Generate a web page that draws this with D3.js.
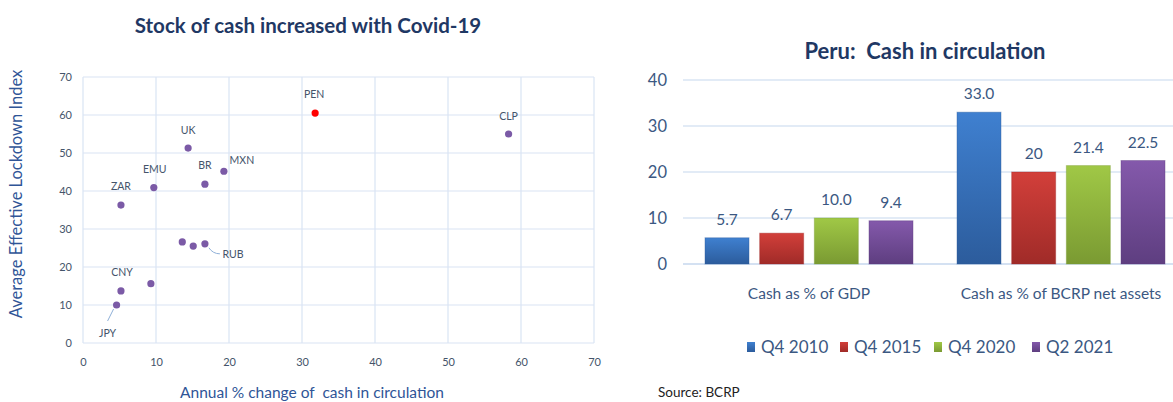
<!DOCTYPE html>
<html>
<head>
<meta charset="utf-8">
<script src="https://cdn.jsdelivr.net/npm/d3@7/dist/d3.min.js"></script>
<style>
  html, body { margin: 0; padding: 0; background: #fff; }
  svg { display: block; font-family: Lato, "Open Sans", sans-serif; }
  text { white-space: pre; }
</style>
</head>
<body>
<svg id="chart" width="1173" height="402"></svg>
<script>
// ---- Scatter: cash growth vs lockdown stringency ----
const countries  = ["UK", "PEN", "CLP", "MXN", "BR", "EMU", "ZAR", "RUB", "CNY", "JPY", "", "", ""];
const cashGrowth = [14.4, 31.8, 58.3, 19.3, 16.7, 9.7, 5.2, 16.7, 5.2, 4.6, 13.6, 15.1, 9.3];
const lockdown   = [51.3, 60.5, 55.0, 45.2, 41.8, 40.9, 36.3, 26.1, 13.7, 10.0, 26.6, 25.5, 15.6];
const highlighted = "PEN";
const scatterTicks = [0, 10, 20, 30, 40, 50, 60, 70];

// ---- Bars: Peru cash in circulation ----
const barCategories = ["Cash as % of GDP", "Cash as % of BCRP net assets"];
const periods = ["Q4 2010", "Q4 2015", "Q4 2020", "Q2 2021"];
const periodValues = {
  "Q4 2010": [5.7, 33.0],
  "Q4 2015": [6.7, 20],
  "Q4 2020": [10.0, 21.4],
  "Q2 2021": [9.4, 22.5]
};
const valueLabels = {
  "Q4 2010": ["5.7", "33.0"],
  "Q4 2015": ["6.7", "20"],
  "Q4 2020": ["10.0", "21.4"],
  "Q2 2021": ["9.4", "22.5"]
};
const barTicks = [0, 10, 20, 30, 40];

const svg = d3.select("#chart");
const navy = "#1f3864";
const tickColor = "#44546a";
const gridColor = "#d9e4f3";

// ================= Scatter =================
const sx = d3.scaleLinear().domain([0, 70]).range([83, 594]);
const sy = d3.scaleLinear().domain([0, 70]).range([343, 77]);

const left = svg.append("g");

left.append("text")
  .attr("x", 308).attr("y", 33)
  .attr("text-anchor", "middle")
  .attr("font-weight", "bold").attr("font-size", 20.5)
  .attr("fill", navy)
  .text("Stock of cash increased with Covid-19");

// grid
left.append("g").selectAll("line.v").data(scatterTicks).join("line")
  .attr("x1", d => sx(d)).attr("x2", d => sx(d))
  .attr("y1", sy(0)).attr("y2", sy(70))
  .attr("stroke", gridColor).attr("stroke-width", 1.2);
left.append("g").selectAll("line.h").data(scatterTicks).join("line")
  .attr("x1", sx(0)).attr("x2", sx(70))
  .attr("y1", d => sy(d)).attr("y2", d => sy(d))
  .attr("stroke", gridColor).attr("stroke-width", 1.2);

// axes
const sxAxis = left.append("g")
  .attr("transform", `translate(0,${sy(0)})`)
  .call(d3.axisBottom(sx).tickValues(scatterTicks).tickSize(0).tickPadding(15));
const syAxis = left.append("g")
  .attr("transform", `translate(${sx(0)},0)`)
  .call(d3.axisLeft(sy).tickValues(scatterTicks).tickSize(0).tickPadding(11));
[sxAxis, syAxis].forEach(a => {
  a.select(".domain").remove();
  a.selectAll("text").attr("fill", tickColor).attr("font-size", 11)
    .attr("font-family", "Lato, sans-serif");
});

left.append("text")
  .attr("transform", `translate(22,${194}) rotate(-90)`)
  .attr("text-anchor", "middle")
  .attr("font-size", 16.5).attr("fill", "#2f5597")
  .text("Average Effective Lockdown Index");

left.append("text")
  .attr("x", 312).attr("y", 398)
  .attr("text-anchor", "middle")
  .attr("font-size", 15.5).attr("fill", "#2f5597")
  .text("Annual % change of  cash in circulation");

const points = countries.map((c, i) => ({ code: c, x: cashGrowth[i], y: lockdown[i] }));

// label placement relative to each dot
const labelOffset = {
  UK: [0, -14], PEN: [-1, -15], CLP: [0, -14], MXN: [18, -7], BR: [0, -15],
  EMU: [1, -15], ZAR: [0, -15], RUB: [28, 14], CNY: [1, -15], JPY: [-9, 32]
};

left.append("g").selectAll("circle").data(points).join("circle")
  .attr("cx", d => sx(d.x)).attr("cy", d => sy(d.y))
  .attr("r", 3.6)
  .attr("fill", d => d.code === highlighted ? "#ff0000" : "#7b5aa6");

// leader lines
const rub = points.find(p => p.code === "RUB");
left.append("path")
  .attr("d", `M${sx(rub.x) + 4},${sy(rub.y) + 4} Q${sx(rub.x) + 8},${sy(rub.y) + 10} ${sx(rub.x) + 15},${sy(rub.y) + 10}`)
  .attr("fill", "none").attr("stroke", "#8fb0d8").attr("stroke-width", 1);
const jpy = points.find(p => p.code === "JPY");
left.append("line")
  .attr("x1", sx(jpy.x) - 3).attr("y1", sy(jpy.y) + 4)
  .attr("x2", sx(jpy.x) - 9).attr("y2", sy(jpy.y) + 16)
  .attr("stroke", "#8fb0d8").attr("stroke-width", 1);

left.append("g").selectAll("text").data(points.filter(p => p.code)).join("text")
  .attr("x", d => sx(d.x) + labelOffset[d.code][0])
  .attr("y", d => sy(d.y) + labelOffset[d.code][1])
  .attr("text-anchor", "middle")
  .attr("font-size", 10.5).attr("fill", tickColor)
  .text(d => d.code);

// ================= Bars =================
const by = d3.scaleLinear().domain([0, 40]).range([264, 80]);
const bx0 = d3.scaleBand().domain(barCategories).range([683, 1187])
  .paddingInner(0.1746).paddingOuter(0.0873);
const bx1 = d3.scaleBand().domain(periods).range([0, bx0.bandwidth()])
  .paddingInner(0.195).paddingOuter(0);

const colors = {
  "Q4 2010": ["#3f80d0", "#2c5c9c"],
  "Q4 2015": ["#d23f3a", "#a02b28"],
  "Q4 2020": ["#a0c846", "#7a9a32"],
  "Q2 2021": ["#8459ab", "#5e3e80"]
};

const defs = svg.append("defs");
periods.forEach((p, i) => {
  const g = defs.append("linearGradient").attr("id", "grad" + i)
    .attr("x1", 0).attr("y1", 0).attr("x2", 0).attr("y2", 1);
  g.append("stop").attr("offset", "0%").attr("stop-color", colors[p][0]);
  g.append("stop").attr("offset", "100%").attr("stop-color", colors[p][1]);
});

const right = svg.append("g");

right.append("text")
  .attr("x", 925).attr("y", 59)
  .attr("text-anchor", "middle")
  .attr("font-weight", "bold").attr("font-size", 22)
  .attr("fill", navy)
  .text("Peru:  Cash in circulation");

right.append("g").selectAll("line").data(barTicks).join("line")
  .attr("x1", 683).attr("x2", 1173)
  .attr("y1", d => by(d)).attr("y2", d => by(d))
  .attr("stroke", d => d === 0 ? "#c6d7ee" : gridColor).attr("stroke-width", 1.3);

const byAxis = right.append("g")
  .attr("transform", "translate(683,0)")
  .call(d3.axisLeft(by).tickValues(barTicks).tickSize(0).tickPadding(16));
byAxis.select(".domain").remove();
byAxis.selectAll("text").attr("fill", "#3b5882").attr("font-size", 16.5)
  .attr("font-family", "Lato, sans-serif");

const rows = [];
barCategories.forEach((c, ci) => periods.forEach((p, pi) => {
  rows.push({ cat: c, period: p, pi, value: periodValues[p][ci], label: valueLabels[p][ci] });
}));

right.append("g").selectAll("rect").data(rows).join("rect")
  .attr("x", d => bx0(d.cat) + bx1(d.period))
  .attr("y", d => by(d.value))
  .attr("width", bx1.bandwidth())
  .attr("height", d => by(0) - by(d.value))
  .attr("fill", d => `url(#grad${d.pi})`)
  .attr("stroke", d => colors[d.period][1]).attr("stroke-opacity", 0.4).attr("stroke-width", 1);

right.append("g").selectAll("text").data(rows).join("text")
  .attr("x", d => bx0(d.cat) + bx1(d.period) + bx1.bandwidth() / 2)
  .attr("y", d => by(d.value) - 13)
  .attr("text-anchor", "middle")
  .attr("font-size", 15.5).attr("fill", "#3b5882")
  .text(d => d.label);

right.append("g").selectAll("text").data(barCategories).join("text")
  .attr("x", d => bx0(d) + bx0.bandwidth() / 2)
  .attr("y", 299)
  .attr("text-anchor", "middle")
  .attr("font-size", 15.5).attr("fill", "#3b5882")
  .text(d => d);

// legend
const legendX = [747, 840, 934, 1032];
const legend = right.append("g").selectAll("g").data(periods).join("g")
  .attr("transform", (d, i) => `translate(${legendX[i]},342)`);
legend.append("rect").attr("width", 8).attr("height", 10)
  .attr("fill", (d, i) => `url(#grad${i})`);
legend.append("text").attr("x", 14).attr("y", 11)
  .attr("font-size", 17).attr("fill", "#3b5882")
  .text(d => d);

right.append("text")
  .attr("x", 658).attr("y", 397)
  .attr("font-size", 13.5).attr("fill", "#222")
  .text("Source: BCRP");
</script>
</body>
</html>
